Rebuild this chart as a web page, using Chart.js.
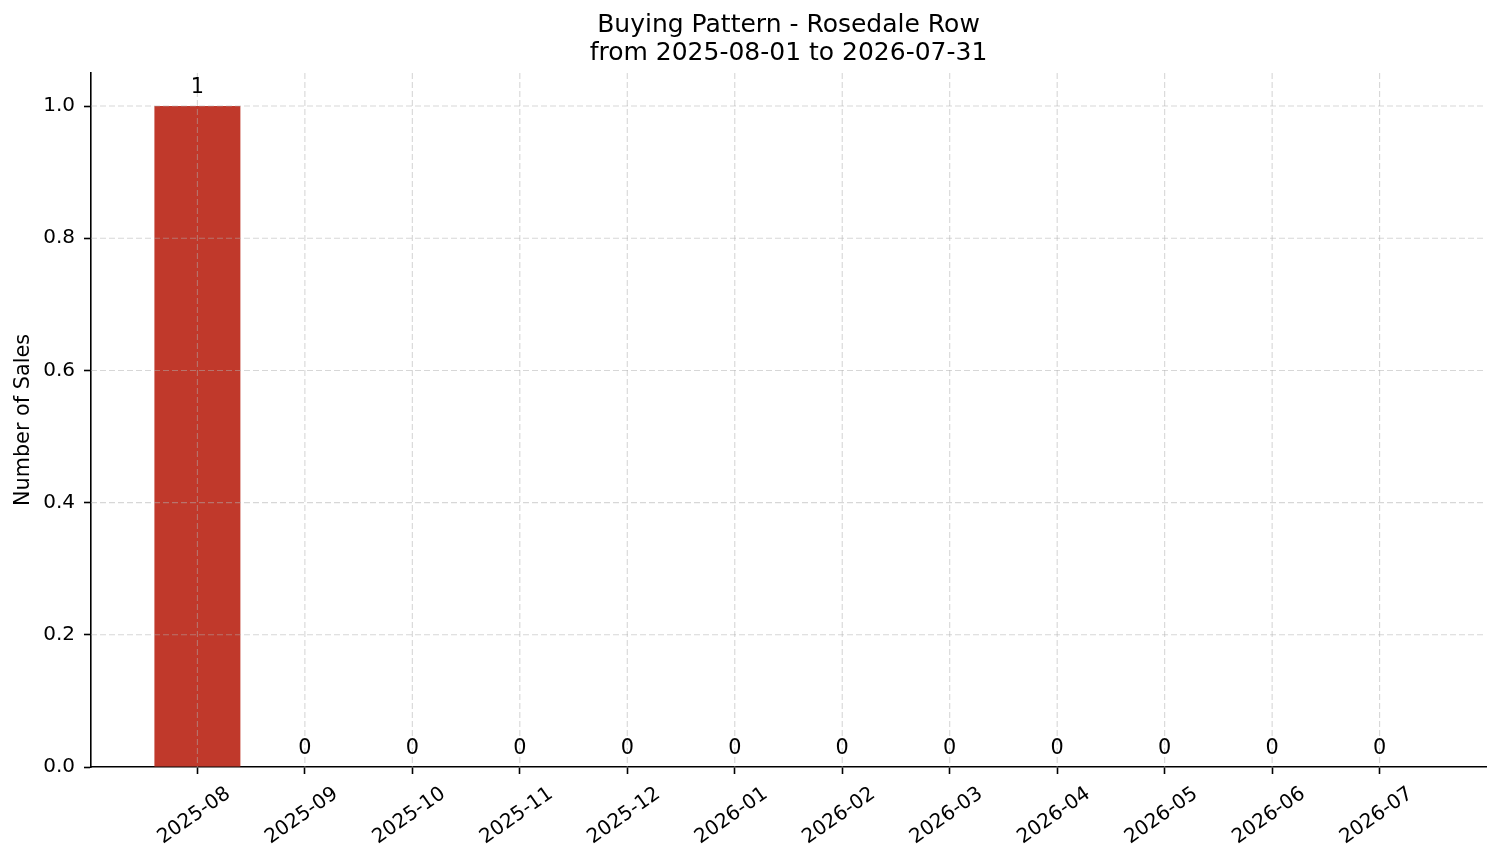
<!DOCTYPE html>
<html>
<head>
<meta charset="utf-8">
<title>Buying Pattern - Rosedale Row</title>
<script src="https://cdn.jsdelivr.net/npm/chart.js@4"></script>
<style>
  html, body { margin: 0; padding: 0; background: #fff; }
  #wrap { width: 1501px; height: 863px; position: relative; }
</style>
</head>
<body>
<div id="wrap"><canvas id="sales-chart"></canvas></div>
<script>
// chart data
const months = ["2025-08", "2025-09", "2025-10", "2025-11", "2025-12", "2026-01",
                "2026-02", "2026-03", "2026-04", "2026-05", "2026-06", "2026-07"];
const sales = [1, 0, 0, 0, 0, 0, 0, 0, 0, 0, 0, 0];
const yTicks = [0, 0.2, 0.4, 0.6, 0.8, 1.0];
const titleLines = ["Buying Pattern - Rosedale Row", "from 2025-08-01 to 2026-07-31"];

const FONT = "'DejaVu Sans', 'Liberation Sans', sans-serif";
Chart.defaults.font.family = FONT;
Chart.defaults.color = "#000";

// dashed grid drawn over the bars, like matplotlib does
const gridOnTop = {
  id: "gridOnTop",
  afterDatasetsDraw(chart) {
    const { ctx, chartArea: a, scales: { x, y } } = chart;
    ctx.save();
    ctx.strokeStyle = "rgba(176,176,176,0.5)";
    ctx.lineWidth = 1.1;
    ctx.setLineDash([6, 3]);
    x.ticks.forEach(t => {
      const px = x.getPixelForValue(t.value);
      ctx.beginPath();
      ctx.moveTo(px, a.top);
      ctx.lineTo(px, a.bottom);
      ctx.stroke();
    });
    y.ticks.forEach(t => {
      if (t.value === 0) return;
      const py = y.getPixelForValue(t.value);
      ctx.beginPath();
      ctx.moveTo(a.left, py);
      ctx.lineTo(a.right, py);
      ctx.stroke();
    });
    ctx.restore();
  }
};

// count above each bar
const barValues = {
  id: "barValues",
  afterDatasetsDraw(chart) {
    const { ctx } = chart;
    const meta = chart.getDatasetMeta(0);
    ctx.save();
    ctx.font = "20.8px " + FONT;
    ctx.fillStyle = "#000";
    ctx.textAlign = "center";
    ctx.textBaseline = "alphabetic";
    meta.data.forEach((bar, i) => {
      ctx.fillText(String(sales[i]), bar.x, bar.y - 13.5);
    });
    ctx.restore();
  }
};

const ctx = document.getElementById("sales-chart");

new Chart(ctx, {
  type: "bar",
  data: {
    datasets: [{
      label: "Number of Sales",
      data: months.map((m, i) => ({ x: i, y: sales[i] })),
      backgroundColor: "#c0392b",
      borderWidth: 0,
      barPercentage: 0.8,
      categoryPercentage: 1.0
    }]
  },
  options: {
    responsive: true,
    maintainAspectRatio: false,
    animation: false,
    layout: { padding: { left: 0, right: 15, top: 0, bottom: 0 } },
    plugins: {
      legend: { display: false },
      tooltip: { enabled: false },
      title: {
        display: true,
        fullSize: false,
        text: titleLines,
        color: "#000",
        font: { size: 25, weight: "normal", lineHeight: 1.12 },
        padding: { top: 11, bottom: 6 }
      }
    },
    scales: {
      x: {
        type: "linear",
        min: -0.99,
        max: 11.99,
        offset: false,
        afterBuildTicks: s => { s.ticks = months.map((m, i) => ({ value: i })); },
        afterFit: s => { s.height = 96; s.paddingLeft = 0; s.paddingRight = 0; },
        grid: { offset: false, drawOnChartArea: false, tickLength: 7, tickColor: "#000", tickWidth: 1.6 },
        border: { color: "#000", width: 1.6 },
        ticks: {
          autoSkip: false,
          minRotation: 35,
          maxRotation: 35,
          labelOffset: 31,
          padding: 8,
          font: { size: 20 },
          callback: v => months[v]
        }
      },
      y: {
        min: 0,
        max: 1.05,
        afterBuildTicks: s => { s.ticks = yTicks.map(v => ({ value: v })); },
        afterFit: s => { s.width = 91; },
        grid: { drawOnChartArea: false, tickLength: 7, tickColor: "#000", tickWidth: 1.6 },
        border: { color: "#000", width: 1.6 },
        ticks: {
          padding: 9,
          font: { size: 20 },
          callback: v => v.toFixed(1)
        },
        title: {
          display: true,
          text: "Number of Sales",
          font: { size: 20.8 },
          padding: { top: 11.5, bottom: 0 }
        }
      }
    }
  },
  plugins: [gridOnTop, barValues]
});
</script>
</body>
</html>
